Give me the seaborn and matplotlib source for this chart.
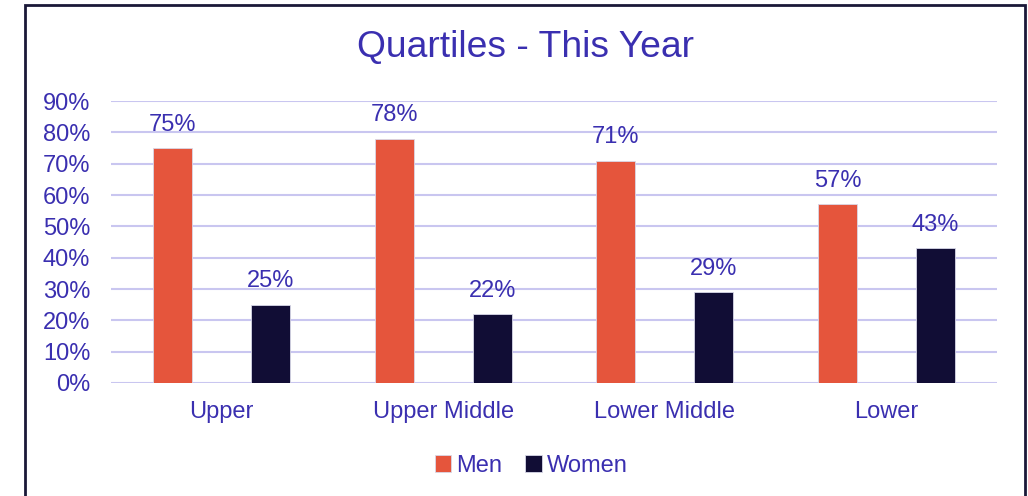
import pandas as pd
import numpy as np
import matplotlib.pyplot as plt
import matplotlib.patches as patches
import seaborn as sns

# data
quartiles = ["Upper", "Upper Middle", "Lower Middle", "Lower"]
men = [0.75, 0.78, 0.71, 0.57]
women = [0.25, 0.22, 0.29, 0.43]

df = pd.DataFrame({
    "Quartile": quartiles * 2,
    "Share": men + women,
    "Gender": ["Men"] * 4 + ["Women"] * 4,
})

txt = "#3A2FB0"
grid = "#C9C6F0"
colors = {"Men": "#E5553C", "Women": "#110D35"}

sns.set_style("white")
plt.rcParams["font.family"] = ["Liberation Sans", "DejaVu Sans"]

fig = plt.figure(figsize=(10.28, 4.96), dpi=100)
ax = fig.add_axes([0.108, 0.228, 0.862, 0.568])

sns.barplot(data=df, x="Quartile", y="Share", hue="Gender", palette=colors,
            saturation=1, width=0.885, gap=0.6, ax=ax, zorder=3,
            edgecolor="#d8d8e8", linewidth=0.6)

ax.set_ylim(0, 0.9)
ax.set_xlim(-0.5, 3.5)
ax.set_yticks(np.arange(0, 0.91, 0.1))
ax.set_yticklabels([f"{int(round(v*100))}%" for v in np.arange(0, 0.91, 0.1)])
ax.yaxis.grid(True, color=grid, linewidth=1.5, zorder=0)
ax.set_axisbelow(True)
for s in ax.spines.values():
    s.set_visible(False)
ax.tick_params(axis="both", length=0, labelsize=17, colors=txt)
ax.tick_params(axis="y", pad=15)
ax.tick_params(axis="x", pad=13)
ax.set_xlabel("")
ax.set_ylabel("")

# value labels
for cont in ax.containers:
    ax.bar_label(cont, labels=[f"{int(round(v*100))}%" for v in cont.datavalues],
                 padding=9, fontsize=17, color=txt)

leg = ax.legend(loc="upper center", bbox_to_anchor=(0.474, -0.18), ncol=2, frameon=False,
                fontsize=17, handlelength=0.7, handleheight=0.7, handletextpad=0.2,
                columnspacing=1.0)
for t in leg.get_texts():
    t.set_color(txt)

fig.text(0.511, 0.905, "Quartiles - This Year", ha="center", va="center",
         fontsize=26.8, color=txt)

# chart border
fig.patches.append(patches.Rectangle((25 / 1028, -0.05), 1000 / 1028, 1.04,
                                     transform=fig.transFigure, fill=False,
                                     edgecolor="#1a1838", linewidth=2))

fig.savefig("out.png", dpi=100)
